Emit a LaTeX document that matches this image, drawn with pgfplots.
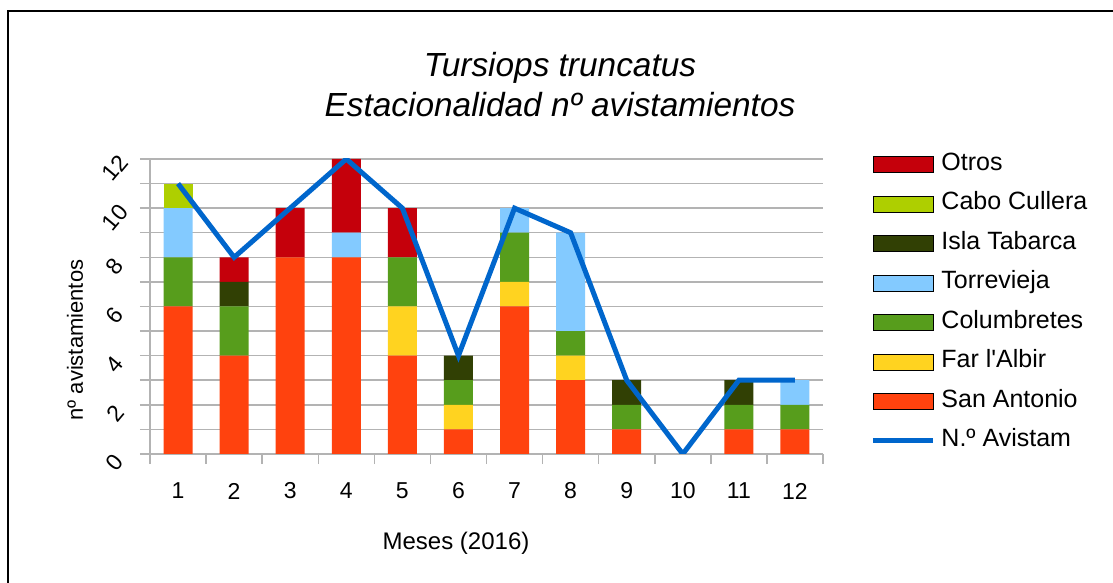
\documentclass[border=0pt]{standalone}
\usepackage{fontspec}
\setmainfont{Liberation Sans}
\usepackage{pgfplots}
\pgfplotsset{compat=1.18}
\usepackage{pgfplotstable}

\definecolor{cOtros}{HTML}{C5000B}
\definecolor{cCabo}{HTML}{AECF00}
\definecolor{cIsla}{HTML}{314004}
\definecolor{cTorre}{HTML}{83CAFF}
\definecolor{cColum}{HTML}{579D1C}
\definecolor{cFar}{HTML}{FFD320}
\definecolor{cSanAnt}{HTML}{FF420E}
\definecolor{cLinea}{HTML}{0066CC}
\definecolor{rejilla}{HTML}{B3B3B3}

% avistamientos por mes y zona
\pgfplotstableread{
mes SanAnt Far Colum Torre Isla Cabo Otros Total
1   6      0   2     2     0    1    0     11
2   4      0   2     0     1    0    1     8
3   8      0   0     0     0    0    2     10
4   8      0   0     1     0    0    3     12
5   4      2   2     0     0    0    2     10
6   1      1   1     0     1    0    0     4
7   6      1   2     1     0    0    0     10
8   3      1   1     4     0    0    0     9
9   1      0   1     0     1    0    0     3
10  0      0   0     0     0    0    0     0
11  1      0   1     0     1    0    0     3
12  1      0   1     1     0    0    0     3
}\datos

\pgfplotsset{
  marco/.style={scale only axis, width=336.5pt, height=147.5pt,
    at={(75pt,64.5pt)}, anchor=south west,
    xmin=0.5, xmax=12.5, ymin=0, ymax=12},
  caja/.style={legend image code/.code={\fill[##1] (0pt,-4pt) rectangle (30pt,4pt);}},
  raya/.style={legend image code/.code={\draw[##1] (0pt,0pt) -- (30pt,0pt);}},
}

\begin{document}
\begin{tikzpicture}
\useasboundingbox (0,0) rectangle (556.5pt,291.5pt);
\draw[line width=1pt] (4pt,-20pt) -- (4pt,286pt) -- (600pt,286pt);

\node[align=center, font={\fontsize{16.7}{20}\selectfont\itshape}] at (280pt,249pt)
  {Tursiops truncatus\\Estacionalidad nº avistamientos};

\begin{axis}[marco,
  ybar stacked, bar width=14.5pt,
  axis x line*=bottom, axis y line*=left,
  axis line style={draw=rejilla, line width=0.75pt, -},
  ytick={0,2,...,12}, minor ytick={1,3,...,11},
  ymajorgrids, yminorgrids,
  grid style={draw=rejilla, line width=0.75pt},
  minor grid style={draw=rejilla, line width=0.75pt},
  tick align=outside, major tick length=5pt, minor tick length=5pt,
  tick style={draw=rejilla, line width=0.75pt},
  xtick={0.5,1.5,...,12.5}, xticklabels={},
  extra x ticks={1,2,3,4,5,6,7,8,9,10,11,12},
  extra x tick labels={1,2,3,4,5,6,7,8,9,10,11,12},
  extra x tick style={major tick length=0pt,
    xticklabel style={anchor=center, yshift=-18.5pt}},
  /pgf/number format/assume math mode=true,
  tick label style={font=\fontsize{11.5}{13}\selectfont},
  yticklabel style={xshift=-12.5pt, yshift=-4.5pt, rotate=50, anchor=center},
  xlabel={Meses (2016)}, ylabel={nº avistamientos},
  label style={font=\fontsize{11}{13}\selectfont},
  xlabel style={at={(axis description cs:0.4547,-0.3017)}, anchor=center,
    font=\fontsize{12}{14}\selectfont},
  ylabel style={at={(axis description cs:-0.1114,0.386)}, anchor=center},
]
\addplot[fill=cSanAnt, draw=none] table[x=mes, y=SanAnt] {\datos};
\addplot[fill=cFar, draw=none] table[x=mes, y=Far] {\datos};
\addplot[fill=cColum, draw=none] table[x=mes, y=Colum] {\datos};
\addplot[fill=cTorre, draw=none] table[x=mes, y=Torre] {\datos};
\addplot[fill=cIsla, draw=none] table[x=mes, y=Isla] {\datos};
\addplot[fill=cCabo, draw=none] table[x=mes, y=Cabo] {\datos};
\addplot[fill=cOtros, draw=none] table[x=mes, y=Otros] {\datos};
\end{axis}

\begin{axis}[marco, hide axis,
  legend style={at={(1.0699,1.0440)}, anchor=north west, draw=none, fill=none,
    inner sep=0pt, row sep=1.75pt, font=\fontsize{12.5}{14}\selectfont,
    nodes={inner sep=3pt, text height=9pt, text depth=3pt}},
  legend cell align=left,
]
\addlegendimage{caja, fill=cOtros}\addlegendentry{Otros}
\addlegendimage{caja, fill=cCabo}\addlegendentry{Cabo Cullera}
\addlegendimage{caja, fill=cIsla}\addlegendentry{Isla Tabarca}
\addlegendimage{caja, fill=cTorre}\addlegendentry{Torrevieja}
\addlegendimage{caja, fill=cColum}\addlegendentry{Columbretes}
\addlegendimage{caja, fill=cFar}\addlegendentry{Far l\textquotesingle Albir}
\addlegendimage{caja, fill=cSanAnt}\addlegendentry{San Antonio}
\addplot[raya, draw=cLinea, line width=2.5pt, mark=none] table[x=mes, y=Total] {\datos};
\addlegendentry{N.º Avistam}
\end{axis}
\end{tikzpicture}
\end{document}
